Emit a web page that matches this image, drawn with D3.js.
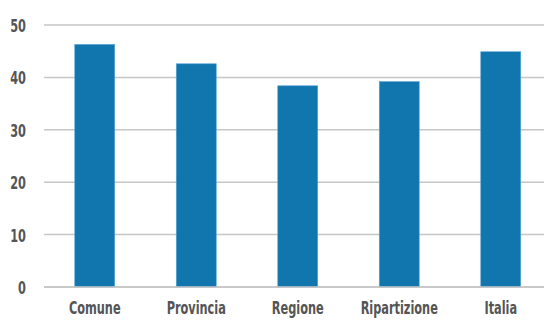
<!DOCTYPE html>
<html>
<head>
<meta charset="utf-8">
<script src="https://cdn.jsdelivr.net/npm/d3@7/dist/d3.min.js"></script>
<style>
  html, body { margin: 0; padding: 0; background: #fff; }
  svg { display: block; }
  text { font-family: "DejaVu Sans Condensed", "Liberation Sans Narrow", "Roboto", sans-serif; font-weight: bold; fill: #555; }
</style>
</head>
<body>
<svg id="chart" width="544" height="322"></svg>
<script>
// Values per territorial level
const categories = ["Comune", "Provincia", "Regione", "Ripartizione", "Italia"];
const values = [46.3, 42.6, 38.4, 39.2, 44.9];
const yTicks = [0, 10, 20, 30, 40, 50];

const svg = d3.select("#chart");
const margin = { left: 44, top: 25 };
const width = 544;
const plotBottom = 287;
const narrow = "scale(0.7,1)"; // condensed look for labels

const x = d3.scaleBand()
  .domain(categories)
  .range([margin.left, margin.left + 507.5])
  .paddingInner(0.606)
  .paddingOuter(0.303);

const y = d3.scaleLinear()
  .domain([0, 50])
  .range([plotBottom, margin.top]);

// Horizontal gridlines
svg.append("g")
  .selectAll("line")
  .data(yTicks)
  .join("line")
  .attr("x1", margin.left)
  .attr("x2", width)
  .attr("y1", d => y(d))
  .attr("y2", d => y(d))
  .attr("stroke", "#c6c6c6")
  .attr("stroke-width", 1.5);

// Y axis labels
const yAxis = d3.axisLeft(y).tickValues(yTicks).tickSize(0).tickPadding(0);
const gy = svg.append("g").attr("transform", "translate(26,0)").call(yAxis);
gy.attr("font-family", null).attr("font-size", null);
gy.select(".domain").remove();
gy.selectAll("text")
  .attr("font-size", 18)
  .attr("dy", "0.36em")
  .attr("transform", narrow);

// Bars
svg.append("g")
  .selectAll("rect")
  .data(values)
  .join("rect")
  .attr("x", (d, i) => x(categories[i]))
  .attr("y", d => y(d))
  .attr("width", x.bandwidth())
  .attr("height", d => plotBottom - y(d))
  .attr("fill", "#1276ae")
  .attr("stroke", "#5aa7d6")
  .attr("stroke-width", 0.6);

// Baseline redrawn over bars
svg.append("line")
  .attr("x1", margin.left).attr("x2", width)
  .attr("y1", plotBottom).attr("y2", plotBottom)
  .attr("stroke", "#c6c6c6").attr("stroke-width", 1.5);

// X axis labels
const xAxis = d3.axisBottom(x).tickSize(0).tickPadding(0);
const gx = svg.append("g").attr("transform", "translate(0,301)").call(xAxis);
gx.attr("font-family", null).attr("font-size", null);
gx.select(".domain").remove();
gx.selectAll("text")
  .attr("font-size", 18)
  .attr("dy", "0.72em")
  .attr("transform", narrow);
</script>
</body>
</html>
